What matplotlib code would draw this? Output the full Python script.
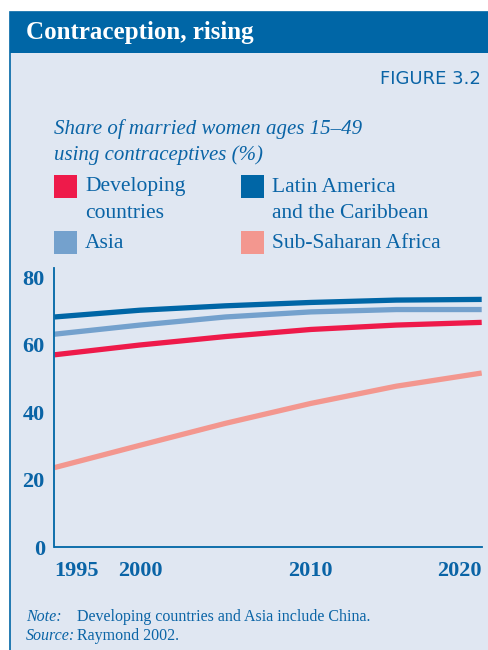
import matplotlib.pyplot as plt
from matplotlib.patches import Rectangle

years = [1995, 2000, 2005, 2010, 2015, 2020]
developing = [57.0, 59.9, 62.4, 64.5, 65.8, 66.6]
latin_america = [68.2, 70.2, 71.5, 72.5, 73.2, 73.4]
asia = [63.1, 65.8, 68.2, 69.7, 70.4, 70.4]
ss_africa = [23.6, 30.2, 36.7, 42.6, 47.7, 51.6]

year_ticks = [1995, 2000, 2010, 2020]
y_ticks = [0, 20, 40, 60, 80]

BLUE = '#0a64a6'
BAR = '#0066a6'
BG = '#e0e7f2'
RED = '#ee1a4a'
LIGHT_BLUE = '#74a1cd'
PINK = '#f3978f'
SERIF = 'Liberation Serif'

W, H = 489, 650
fig = plt.figure(figsize=(W / 100, H / 100), dpi=100)
fig.patch.set_facecolor('white')


def px(x, y):
    # pixel coords (from top-left) -> figure fraction
    return x / W, 1 - y / H


# panel + header bar
fig.patches.append(Rectangle(px(10, 651), 1, (651 - 12) / H, transform=fig.transFigure,
                             facecolor=BG, edgecolor=BAR, lw=1.2, zorder=-2))
fig.patches.append(Rectangle(px(10, 53), 1, 41 / H, transform=fig.transFigure,
                             facecolor=BAR, edgecolor='none', zorder=1))

fig.text(*px(26, 33), 'Contraception, rising', color='white', fontsize=18,
         fontweight='bold', family=SERIF, va='center', ha='left')
fig.text(*px(481, 79), 'FIGURE 3.2', color=BLUE, fontsize=13, family='DejaVu Sans',
         va='center', ha='right')
fig.text(*px(54, 129), 'Share of married women ages 15\u201349', color=BLUE, fontsize=15,
         family=SERIF, style='italic', va='center')
fig.text(*px(54, 155), 'using contraceptives (%)', color=BLUE, fontsize=15,
         family=SERIF, style='italic', va='center')

# legend: swatch + one or two lines of text
legend_items = [
    (54, 175, RED, ['Developing', 'countries']),
    (241, 175, BAR, ['Latin America', 'and the Caribbean']),
    (54, 231, LIGHT_BLUE, ['Asia']),
    (241, 231, PINK, ['Sub-Saharan Africa']),
]
for lx, ly, col, lines in legend_items:
    fig.patches.append(Rectangle(px(lx, ly + 23), 23 / W, 23 / H, transform=fig.transFigure,
                                 facecolor=col, edgecolor='none', zorder=2))
    for i, line in enumerate(lines):
        fig.text(*px(lx + 31, ly + 12 + 26 * i), line, color=BLUE, fontsize=15.5,
                 family=SERIF, va='center', ha='left')

# chart
x0, y0 = px(54.5, 547.3)
x1, y1 = px(481.7, 268)
ax = fig.add_axes([x0, y0, x1 - x0, y1 - y0])
ax.set_facecolor('none')

lw = 3.8
ax.plot(years, ss_africa, color=PINK, lw=lw, solid_capstyle='butt')
ax.plot(years, developing, color=RED, lw=lw, solid_capstyle='butt')
ax.plot(years, asia, color=LIGHT_BLUE, lw=lw, solid_capstyle='butt')
ax.plot(years, latin_america, color=BAR, lw=lw, solid_capstyle='butt')

ax.set_xlim(1995, 2020)
ax.set_ylim(0, 82.7)
for s in ['top', 'right']:
    ax.spines[s].set_visible(False)
for s in ['left', 'bottom']:
    ax.spines[s].set_color(BAR)
    ax.spines[s].set_linewidth(1.3)

ax.set_xticks(year_ticks)
ax.set_xticklabels([str(y) for y in year_ticks])
ax.set_yticks(y_ticks)
ax.tick_params(length=0, colors=BLUE)
ax.tick_params(axis='x', pad=10)
ax.tick_params(axis='y', pad=7)
for lab in ax.get_xticklabels() + ax.get_yticklabels():
    lab.set_fontfamily(SERIF)
    lab.set_fontweight('bold')
    lab.set_fontsize(16)
    lab.set_color(BLUE)
xl = ax.get_xticklabels()
xl[0].set_horizontalalignment('left')
xl[-1].set_horizontalalignment('right')

# notes
fig.text(*px(26, 617), 'Note:', color=BLUE, fontsize=11.5, family=SERIF, style='italic', va='center')
fig.text(*px(77, 617), 'Developing countries and Asia include China.', color=BLUE,
         fontsize=11.5, family=SERIF, va='center')
fig.text(*px(26, 636), 'Source:', color=BLUE, fontsize=11.5, family=SERIF, style='italic', va='center')
fig.text(*px(77, 636), 'Raymond 2002.', color=BLUE, fontsize=11.5, family=SERIF, va='center')

fig.savefig('out.png', dpi=100)
